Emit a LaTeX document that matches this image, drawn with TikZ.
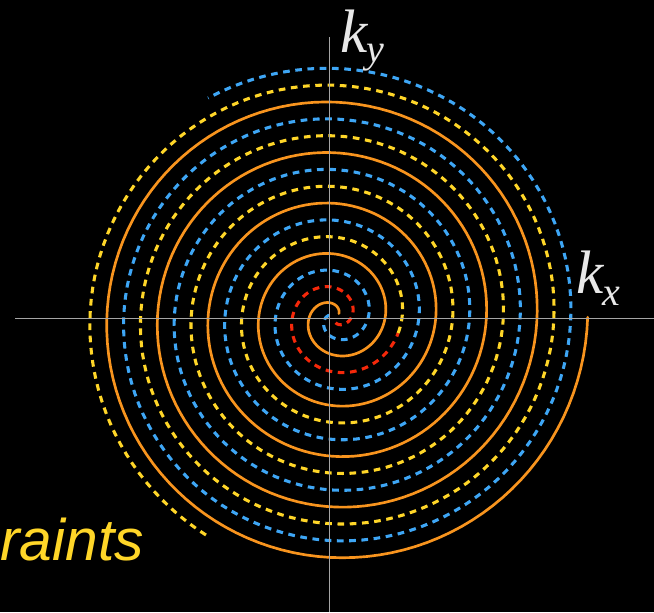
\documentclass[tikz,border=0pt]{standalone}
\usepackage{fontspec}
\setmainfont{Liberation Serif}
\newfontfamily\captionsans{Liberation Sans}
\definecolor{armorange}{RGB}{248,148,30}
\definecolor{armblue}{RGB}{62,166,245}
\definecolor{armyellow}{RGB}{255,214,40}
\definecolor{armred}{RGB}{245,40,10}
\definecolor{axisgray}{RGB}{165,165,165}
\definecolor{labelwhite}{RGB}{232,232,232}
% spiral centre (slightly right of the axes) and growth per degree
\def\cx{334.6}
\def\cy{317.2}
\def\growth{0.1406}
\tikzset{
    solidarm/.style={armorange, line width=2pt, line cap=round},
    dashedarm/.style={line width=2.3pt, dash pattern=on 5pt off 4.2pt},
    axisline/.style={axisgray, line width=1pt},
    axislabel/.style={labelwhite, inner sep=0pt, anchor=base west, font=\fontsize{46}{50}\selectfont\itshape}
}
\begin{document}
\begin{tikzpicture}[x=0.75pt, y=-0.75pt]
    % Background
    \fill[black] (0,0) rectangle (654,612);
    \useasboundingbox (0,0) rectangle (654,612);

    % Three interleaved arms, each turned by 120 degrees
    \draw[solidarm] plot[domain=40:1800, samples=600]
        ({\cx+\growth*\x*cos(\x)}, {\cy-\growth*\x*sin(\x)});
    \draw[dashedarm, armblue] plot[domain=160:1920, samples=600]
        ({\cx+\growth*(\x-120)*cos(\x)}, {\cy-\growth*(\x-120)*sin(\x)});
    % inner turns of the third arm in red
    \draw[dashedarm, armred] plot[domain=280:706, samples=150]
        ({\cx+\growth*(\x-240)*cos(\x)}, {\cy-\growth*(\x-240)*sin(\x)});
    \draw[dashedarm, armyellow] plot[domain=706:2040, samples=500]
        ({\cx+\growth*(\x-240)*cos(\x)}, {\cy-\growth*(\x-240)*sin(\x)});

    % Axes
    \coordinate (xleft) at (15,318.3);
    \coordinate (xright) at (654,318.3);
    \coordinate (ytop) at (329.7,37);
    \coordinate (ybottom) at (329.7,612);
    \draw[axisline] (xleft) -- (xright);
    \draw[axisline] (ytop) -- (ybottom);

    % Labels
    \node[axislabel] (kylabel) at (340,52) {k\kern-0.02em\raisebox{-0.17em}{\fontsize{30}{30}\selectfont y}};
    \node[axislabel] (kxlabel) at (576,293) {k\kern-0.02em\raisebox{-0.2em}{\fontsize{30}{30}\selectfont x}};
    \node[armyellow, inner sep=0pt, anchor=base east, font=\captionsans\fontsize{44}{50}\selectfont\itshape]
        (caption) at (144,560) {raints};
\end{tikzpicture}
\end{document}
